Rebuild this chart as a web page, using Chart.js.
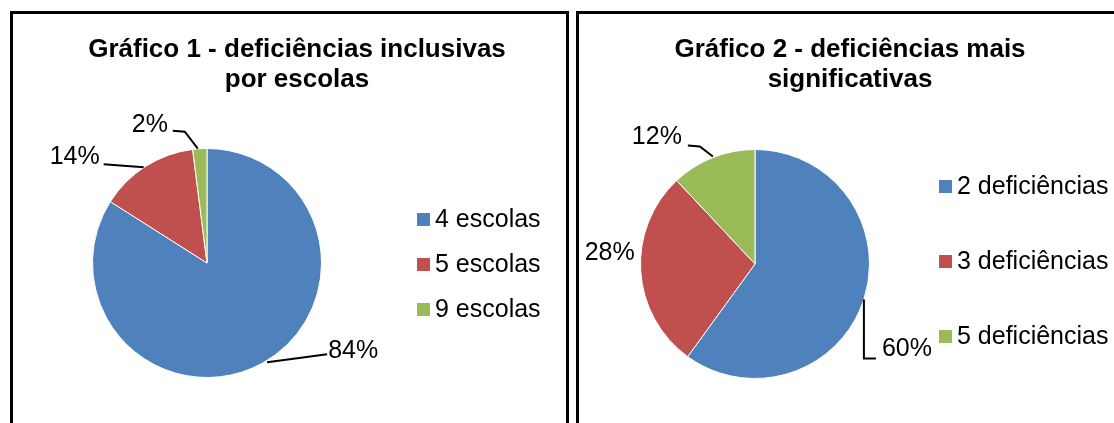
<!DOCTYPE html>
<html>
<head>
<meta charset="utf-8">
<script src="https://cdn.jsdelivr.net/npm/chart.js@4"></script>
<style>
  body { margin: 0; background: #fff; overflow: hidden; }
  .panel { position: absolute; top: 11px; height: 420px; border: 3px solid #000; border-bottom: none; }
  #p1 { left: 10px; width: 553px; }
  #p2 { left: 576px; width: 600px; }
  canvas { display: block; }
</style>
</head>
<body>
<div class="panel" id="p1"><canvas id="chart1" width="553" height="409"></canvas></div>
<div class="panel" id="p2"><canvas id="chart2" width="535" height="409"></canvas></div>
<script>
// Gráfico 1
const labels1 = ['4 escolas', '5 escolas', '9 escolas'];
const values1 = [84, 14, 2];
const title1 = ['Gráfico 1 - deficiências inclusivas', 'por escolas'];

// Gráfico 2
const labels2 = ['2 deficiências', '3 deficiências', '5 deficiências'];
const values2 = [60, 28, 12];
const title2 = ['Gráfico 2 - deficiências mais', 'significativas'];

const colors = ['#4F81BD', '#C0504D', '#9BBB59'];
const FONT = '"Liberation Sans", Arial, sans-serif';

// title, legend and percent labels with leader lines
const decor = {
  id: 'decor',
  afterDraw(chart, args, o) {
    const ctx = chart.ctx;
    ctx.save();
    ctx.fillStyle = '#000';
    ctx.textAlign = 'center';
    ctx.textBaseline = 'alphabetic';
    ctx.font = 'bold 26px ' + FONT;
    o.title.forEach((t, i) => ctx.fillText(t, o.titleX, o.titleY + i * 30));

    // legend
    ctx.font = '25px ' + FONT;
    ctx.textAlign = 'left';
    ctx.textBaseline = 'middle';
    chart.data.labels.forEach((l, i) => {
      const y = o.legendY + i * o.legendGap;
      ctx.fillStyle = colors[i];
      ctx.fillRect(o.legendX, y - 6, 13, 13);
      ctx.fillStyle = '#000';
      ctx.fillText(l, o.legendX + 18, y + 1);
    });

    // data labels
    const meta = chart.getDatasetMeta(0);
    const vals = chart.data.datasets[0].data;
    ctx.textAlign = 'center';
    ctx.strokeStyle = '#000';
    ctx.lineWidth = 2;
    meta.data.forEach((arc, i) => {
      const mid = (arc.startAngle + arc.endAngle) / 2;
      const ax = arc.x + Math.cos(mid) * arc.outerRadius;
      const ay = arc.y + Math.sin(mid) * arc.outerRadius;
      const lb = o.labels[i];
      if (lb.line) {
        ctx.beginPath();
        lb.line.forEach((p, k) => k ? ctx.lineTo(ax + p[0], ay + p[1]) : ctx.moveTo(ax + p[0], ay + p[1]));
        ctx.stroke();
      }
      ctx.fillText(vals[i] + '%', ax + lb.dx, ay + lb.dy);
    });
    ctx.restore();
  }
};

function makePie(id, labels, values, padding, deco) {
  new Chart(document.getElementById(id), {
    type: 'pie',
    data: {
      labels: labels,
      datasets: [{ data: values, backgroundColor: colors, borderColor: '#fff', borderWidth: 1 }]
    },
    options: {
      responsive: false,
      animation: false,
      events: [],
      layout: { padding: padding },
      plugins: { legend: { display: false }, tooltip: { enabled: false }, decor: deco }
    },
    plugins: [decor]
  });
}

makePie('chart1', labels1, values1, { left: 79, top: 134, right: 244, bottom: 45 }, {
  title: title1, titleX: 284, titleY: 43,
  legendX: 404, legendY: 205, legendGap: 45,
  labels: [
    { dx: 91, dy: -12, line: [[5, -1], [65, -9]] },
    { dx: -71, dy: -9, line: [[-2, 1], [-42, -2]] },
    { dx: -50, dy: -24, line: [[-2, 0], [-15, -17], [-27, -18]] }
  ]
});

makePie('chart2', labels2, values2, { left: 61, top: 135, right: 244, bottom: 44 }, {
  title: title2, titleX: 271, titleY: 43,
  legendX: 360, legendY: 172, legendGap: 75,
  labels: [
    { dx: 43, dy: 50, line: [[0, 0], [0, 59], [12, 59]] },
    { dx: -31, dy: -18 },
    { dx: -56, dy: -20, line: [[0, -1], [-13, -11], [-25, -12]] }
  ]
});
</script>
</body>
</html>
